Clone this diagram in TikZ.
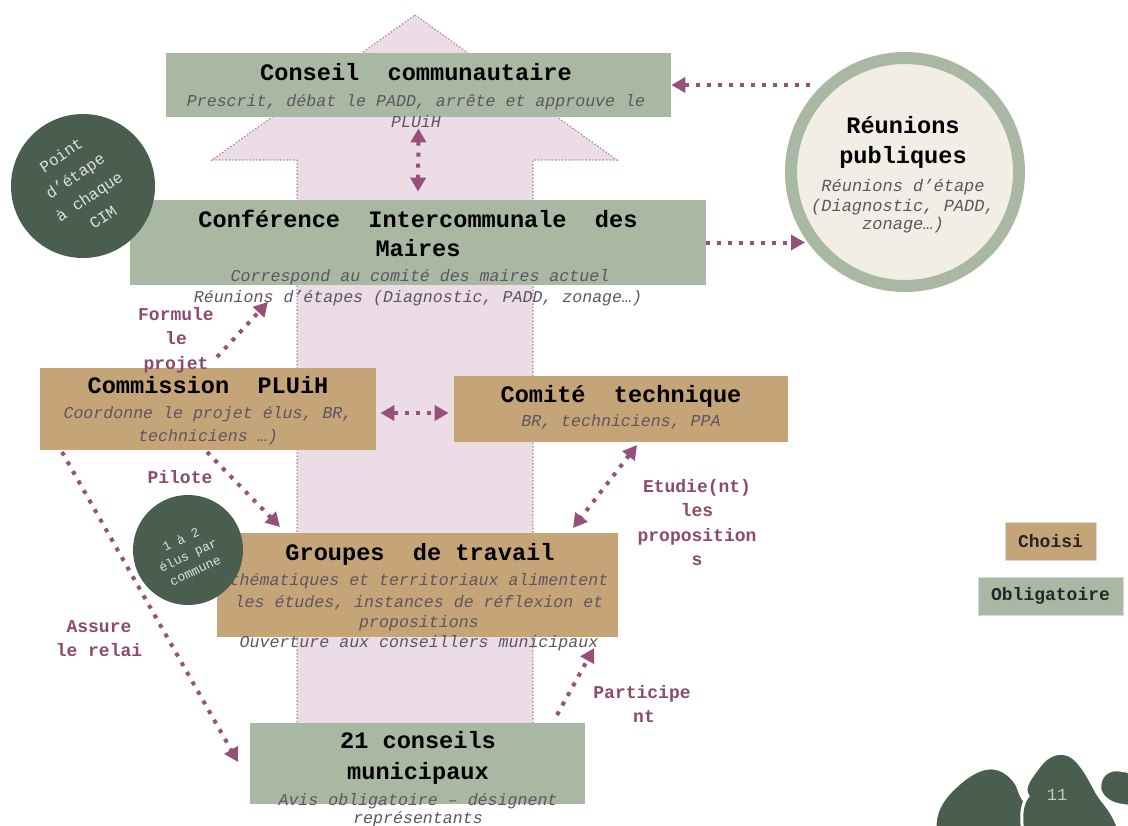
\documentclass[tikz,border=0pt]{standalone}
\usepackage{fontspec}
\setmainfont{Liberation Mono}
\usetikzlibrary{arrows.meta}
\definecolor{sage}{HTML}{A9B8A2}
\definecolor{tanc}{HTML}{C5A578}
\definecolor{dkgreen}{HTML}{4A5E50}
\definecolor{pinkfill}{HTML}{EBDCE5}
\definecolor{pinkline}{HTML}{B0809E}
\definecolor{connc}{HTML}{965079}
\definecolor{lblc}{HTML}{8C4A6E}
\definecolor{subc}{HTML}{5E5560}
\definecolor{cream}{HTML}{F1EEE6}
\definecolor{pagec}{HTML}{C8CDB8}
\begin{document}
\begin{tikzpicture}[x=0.5pt,y=-0.5pt,
  obl/.style={fill=sage, draw=none, inner sep=0pt},
  cho/.style={fill=tanc, draw=none, inner sep=0pt},
  ttl/.style={font=\fontsize{11.8}{14}\selectfont\bfseries, text=black, inner sep=0pt, anchor=mid},
  sub/.style={font=\fontsize{8.3}{10}\selectfont\itshape, text=subc, inner sep=0pt, anchor=mid},
  lab/.style={font=\fontsize{9}{12}\selectfont\bfseries, text=lblc, inner sep=0pt, anchor=mid},
  conn/.style={draw=connc, line width=2pt, dash pattern=on 2pt off 3.5pt, -{Triangle[length=7pt,width=7.5pt]}},
  conn2/.style={conn, {Triangle[length=7pt,width=7.5pt]}-{Triangle[length=7pt,width=7.5pt]}},
  legend/.style={draw=white!85!black, line width=0.5pt, inner sep=0pt, font=\fontsize{9}{11}\selectfont\bfseries, text=black!85},
  blob/.style={fill=dkgreen, draw=white, line width=1.5pt},
]
\useasboundingbox (0,0) rectangle (1128,825);
\fill[white] (0,0) rectangle (1128,825);

% big background arrow
\draw[fill=pinkfill, draw=pinkline, line width=0.6pt, dash pattern=on 0.7pt off 1pt]
  (415,15) -- (617,160) -- (533,160) -- (533,728) -- (297,728) -- (297,160) -- (212,160) -- cycle;

% boxes
\node[obl, minimum width=252.5pt, minimum height=32pt] (cc) at (418.5,85) {};
\node[obl, minimum width=288pt, minimum height=42.5pt] (cim) at (418,242.5) {};
\node[cho, minimum width=168pt, minimum height=41pt] (cp) at (208,409) {};
\node[cho, minimum width=167pt, minimum height=33pt] (ct) at (621,409) {};
\node[cho, minimum width=200.5pt, minimum height=52pt] (gt) at (417.5,585) {};
\node[obl, minimum width=167.5pt, minimum height=40.5pt] (cm) at (417.5,763.5) {};

% texts: Conseil communautaire
\node[ttl] (cct) at (416,75) {Conseil~~communautaire};
\node[sub] (ccs1) at (416,101) {Prescrit, débat le PADD, arrête et approuve le};
\node[sub] (ccs2) at (416,122) {PLUiH};
% Conférence
\node[ttl] (cimt1) at (418,222) {Conférence~~Intercommunale~~des};
\node[ttl] (cimt2) at (418,251) {Maires};
\node[sub] (cims1) at (420,276) {Correspond au comité des maires actuel};
\node[sub] (cims2) at (418,297) {Réunions d'étapes (Diagnostic, PADD, zonage…)};
% Commission
\node[ttl] (cpt) at (208,388) {Commission~~PLUiH};
\node[sub] (cps1) at (208,413) {Coordonne le projet élus, BR,};
\node[sub] (cps2) at (208,436) {techniciens …)};
% Comité technique
\node[ttl] (ctt) at (621,397) {Comité~~technique};
\node[sub] (cts) at (621,421) {BR, techniciens, PPA};
% Groupes de travail
\node[ttl] (gtt) at (420,555) {Groupes~~de travail};
\node[sub] (gts1) at (419,580) {thématiques et territoriaux alimentent};
\node[sub] (gts2) at (419,602) {les études, instances de réflexion et};
\node[sub] (gts3) at (419,622) {propositions};
\node[sub] (gts4) at (419,642) {Ouverture aux conseillers municipaux};
% 21 conseils
\node[ttl] (cmt1) at (418,743) {21 conseils};
\node[ttl] (cmt2) at (418,774) {municipaux};
\node[sub] (cms1) at (418,800) {Avis obligatoire – désignent};
\node[sub] (cms2) at (418,818) {représentants};

% connector end points
\coordinate (rpa) at (810,85);
\coordinate (rpb) at (805,242.5);
\coordinate (fa) at (217,357);
\coordinate (fb) at (268,302);
\coordinate (pa) at (207,452);
\coordinate (pb) at (280,527);
\coordinate (aa) at (62,452);
\coordinate (ab) at (238,762);
\coordinate (ea) at (637,445);
\coordinate (eb) at (573,528);
\coordinate (ga) at (557,715);
\coordinate (gb) at (594,648);

% connectors
\draw[conn2] ([yshift=-5.5pt]cc.south) -- ([yshift=4pt]cim.north);
\draw[conn] (rpa) -- (cc.east);
\draw[conn] (cim.east) -- (rpb);
\draw[conn] (fa) -- (fb);
\draw[conn2, shorten <=2pt, shorten >=2.5pt] ([yshift=-2pt]cp.east) -- ([yshift=-2pt]ct.west);
\draw[conn] (pa) -- (pb);
\draw[conn] (aa) -- (ab);
\draw[conn2] (ea) -- (eb);
\draw[conn] (ga) -- (gb);

% labels
\node[lab] (l1) at (176,315) {Formule};
\node[lab] (l2) at (176,339) {le};
\node[lab] (l3) at (176,364) {projet};
\node[lab] (l4) at (180,478) {Pilote};
\node[lab] (l5) at (99,627) {Assure};
\node[lab] (l6) at (99,651) {le relai};
\node[lab] (l7) at (697,487) {Etudie(nt)};
\node[lab] (l8) at (697,511) {les};
\node[lab] (l9) at (697,536) {proposition};
\node[lab] (l10) at (697,560) {s};
\node[lab] (l11) at (642,693) {Participe};
\node[lab] (l12) at (644,717) {nt};

% circles
\node[circle, fill=dkgreen, minimum size=72pt, inner sep=0pt] (pe) at (83,186) {};
\node[rotate=34, align=center, text=white!88!black, inner sep=0pt,
  font=\fontsize{8}{12.5}\selectfont] (pet) at (82,186) {Point\\d'étape\\à chaque\\CIM};
\node[circle, fill=dkgreen, minimum size=55pt, inner sep=0pt] (ep) at (188,550) {};
\node[rotate=25, align=center, text=white!88!black, inner sep=0pt,
  font=\fontsize{6.5}{8.5}\selectfont] (ept) at (188,555) {1 à 2\\élus par\\commune};
\node[circle, fill=cream, draw=sage, line width=6pt, minimum size=114pt, inner sep=0pt] (rp) at (905,172) {};
\node[ttl] (rpt1) at (903,128) {Réunions};
\node[ttl] (rpt2) at (903,158) {publiques};
\node[sub, font=\fontsize{8.5}{10}\selectfont\itshape] (rps1) at (903,186) {Réunions d'étape};
\node[sub, font=\fontsize{8.5}{10}\selectfont\itshape] (rps2) at (903,206) {(Diagnostic, PADD,};
\node[sub, font=\fontsize{8.5}{10}\selectfont\itshape] (rps3) at (903,224) {zonage…)};

% legend
\node[legend, fill=tanc, minimum width=45.5pt, minimum height=19pt] (lgc) at (1050.5,541) {Choisi};
\node[legend, fill=sage, minimum width=72.5pt, minimum height=19pt] (lgo) at (1050.5,596) {Obligatoire};

% page decoration
\begin{scope}
\clip (0,0) rectangle (1128,825);
\draw[blob] (940,850) .. controls (930,825) and (935,805) .. (955,787)
  .. controls (975,768) and (995,760) .. (1012,778)
  .. controls (1020,786) and (1018,792) .. (1024,800)
  .. controls (1032,812) and (1036,830) .. (1040,850) -- cycle;
\draw[blob] (1026,850) .. controls (1022,830) and (1018,808) .. (1028,796)
  .. controls (1022,788) and (1030,778) .. (1040,765)
  .. controls (1050,752) and (1066,748) .. (1078,762)
  .. controls (1090,776) and (1094,790) .. (1102,800)
  .. controls (1112,812) and (1120,825) .. (1124,850) -- cycle;
\draw[blob] (1100,790) .. controls (1098,776) and (1108,768) .. (1120,770)
  .. controls (1130,772) and (1140,772) .. (1145,780)
  -- (1145,805) .. controls (1128,808) and (1105,806) .. (1100,790) -- cycle;
\end{scope}
\node[text=pagec, font=\fontsize{8.5}{10}\selectfont, inner sep=0pt] (pg) at (1057,795) {11};
\end{tikzpicture}
\end{document}
